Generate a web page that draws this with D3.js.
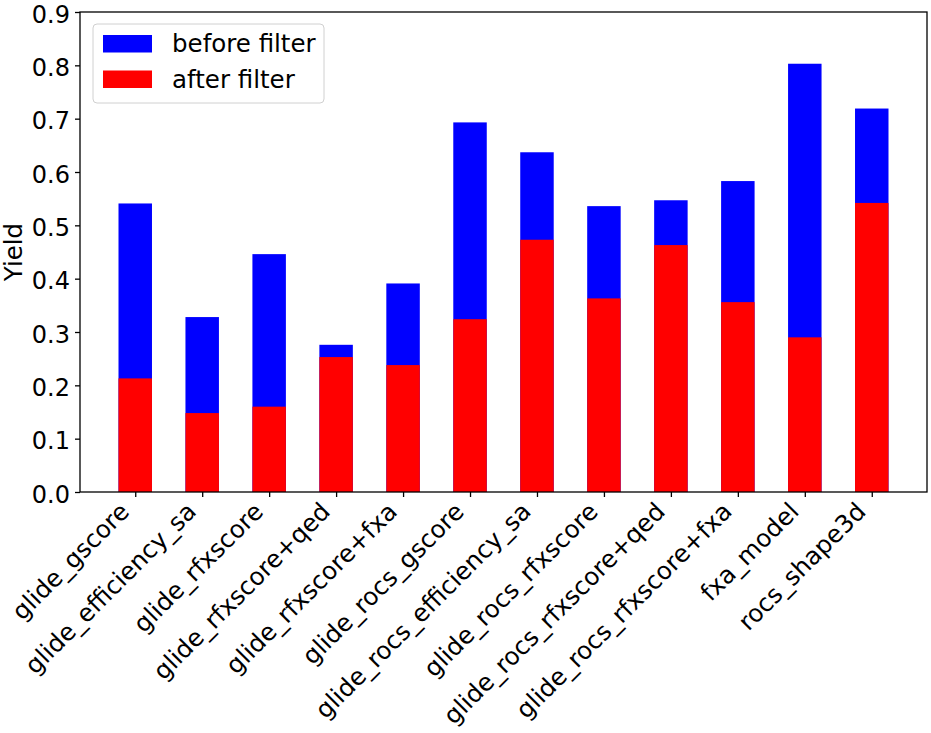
<!DOCTYPE html>
<html>
<head>
<meta charset="utf-8">
<script src="https://cdn.jsdelivr.net/npm/d3@7"></script>
<style>
  body { margin: 0; background: #fff; }
  text { font-family: "DejaVu Sans", sans-serif; fill: #000; }
</style>
</head>
<body>
<svg id="chart" width="931" height="733"></svg>
<script>
// categories along the x axis
const methods = [
    'glide_gscore', 'glide_efficiency_sa', 'glide_rfxscore', 'glide_rfxscore+qed',
    'glide_rfxscore+fxa', 'glide_rocs_gscore', 'glide_rocs_efficiency_sa',
    'glide_rocs_rfxscore', 'glide_rocs_rfxscore+qed', 'glide_rocs_rfxscore+fxa',
    'fxa_model', 'rocs_shape3d'
];
// yield before and after the filter
const beforeFilter = [0.541, 0.328, 0.446, 0.276, 0.391, 0.693, 0.637, 0.536, 0.547, 0.583, 0.803, 0.719];
const afterFilter = [0.213, 0.148, 0.160, 0.253, 0.238, 0.324, 0.473, 0.363, 0.463, 0.356, 0.290, 0.542];
const yTicks = [0.0, 0.1, 0.2, 0.3, 0.4, 0.5, 0.6, 0.7, 0.8, 0.9];

const FONT = '24.5px';
const margin = { left: 80, top: 12, right: 4, bottom: 241 };
const width = 931 - margin.left - margin.right;
const height = 733 - margin.top - margin.bottom;
const BAR_WIDTH = 0.5;

const svg = d3.select('#chart');
const g = svg.append('g').attr('transform', `translate(${margin.left},${margin.top})`);

// matplotlib-like x range: bars at integer positions with 5% margins
const pad = (methods.length - 1 + BAR_WIDTH) * 0.05 + BAR_WIDTH / 2;
const x = d3.scaleLinear().domain([-pad, methods.length - 1 + pad]).range([0, width]);
const y = d3.scaleLinear().domain([0, 0.9]).range([height, 0]);
const bw = x(BAR_WIDTH) - x(0);

// before filter bars (behind)
g.selectAll('.before')
    .data(beforeFilter)
    .enter()
    .append('rect')
    .attr('class', 'before')
    .attr('x', (d, i) => x(i) - bw / 2)
    .attr('y', (d) => y(d))
    .attr('width', bw)
    .attr('height', (d) => y(0) - y(d))
    .attr('fill', '#0000ff');

// after filter bars drawn on top
g.selectAll('.after')
    .data(afterFilter)
    .enter()
    .append('rect')
    .attr('class', 'after')
    .attr('x', (d, i) => x(i) - bw / 2)
    .attr('y', (d) => y(d))
    .attr('width', bw)
    .attr('height', (d) => y(0) - y(d))
    .attr('fill', '#ff0000');

// y axis
const yAxis = g.append('g')
    .call(d3.axisLeft(y).tickValues(yTicks).tickFormat(d3.format('.1f')).tickSize(5).tickPadding(5));
yAxis.select('.domain').remove();
yAxis.selectAll('text').style('font-size', '24px').attr('dy', '0.42em');
yAxis.selectAll('line').attr('stroke-width', 1.3);

// x axis with rotated labels
const xAxis = g.append('g')
    .attr('transform', `translate(0,${height})`)
    .call(d3.axisBottom(x).tickValues(d3.range(methods.length)).tickFormat((i) => methods[i]).tickSize(5));
xAxis.select('.domain').remove();
xAxis.selectAll('line').attr('stroke-width', 1.3);
xAxis.selectAll('text')
    .style('font-size', FONT)
    .attr('text-anchor', 'end')
    .attr('dy', null)
    .attr('y', 0)
    .attr('transform', 'translate(-5,21) rotate(-45)');

// frame
g.append('rect')
    .attr('width', width)
    .attr('height', height)
    .attr('fill', 'none')
    .attr('stroke', '#000')
    .attr('stroke-width', 1.3);

// y label
svg.append('text')
    .attr('transform', `translate(21.5,${margin.top + height / 2}) rotate(-90)`)
    .attr('text-anchor', 'middle')
    .style('font-size', FONT)
    .text('Yield');

// legend
const legend = g.append('g').attr('transform', 'translate(13,12)');
legend.append('rect')
    .attr('width', 231)
    .attr('height', 79)
    .attr('rx', 4)
    .attr('fill', '#fff')
    .attr('fill-opacity', 0.8)
    .attr('stroke', '#d0d0d0');
const items = [{ name: 'before filter', color: '#0000ff' }, { name: 'after filter', color: '#ff0000' }];
const row = legend.selectAll('.item')
    .data(items)
    .enter()
    .append('g')
    .attr('transform', (d, i) => `translate(10,${11 + i * 35.5})`);
row.append('rect')
    .attr('width', 49)
    .attr('height', 17.5)
    .attr('fill', (d) => d.color);
row.append('text')
    .attr('x', 69)
    .attr('y', 17.3)
    .style('font-size', FONT)
    .text((d) => d.name);
</script>
</body>
</html>
